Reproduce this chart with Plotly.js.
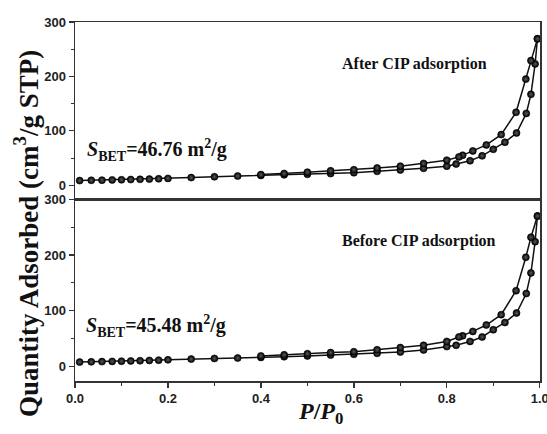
<!DOCTYPE html>
<html>
<head>
<meta charset="utf-8">
<script src="https://cdn.plot.ly/plotly-3.0.1.min.js"></script>
<style>html,body{margin:0;padding:0;background:#fff;}#chart{width:547px;height:434px;}</style>
</head>
<body>
<div id="chart"></div>
<script>
// Relative pressure P/P0, adsorption branch
const adsP = [0.01,0.035,0.058,0.08,0.1,0.12,0.14,0.16,0.18,0.2,0.25,0.3,0.35,0.4,0.45,0.5,0.55,0.6,0.65,0.7,0.75,0.8,0.82,0.85,0.876,0.9,0.925,0.95,0.971,0.981,0.99,0.995];
// Relative pressure P/P0, desorption branch
const desP = [0.995,0.981,0.97,0.949,0.917,0.885,0.856,0.834,0.826,0.8,0.75,0.7,0.65,0.6,0.55,0.5,0.45,0.4];

// After CIP adsorption (top panel)
const afterAds = [8.5,9,9.3,9.7,10,10.4,10.8,11.2,11.8,12.5,14,15.5,16.8,18,19,20,21.3,23,25.5,28,31,35,39,45,54,66,79,96,132,167,223,269];
const afterDes = [269,229,195,134,93,74,63,55,52,46,40,35,31.7,28.5,26.5,24,21.5,19.5];

// Before CIP adsorption (bottom panel)
const beforeAds = [7.9,8.4,8.8,9.2,9.6,10,10.4,10.9,11.4,12,13.3,14.5,15.3,16.4,17.6,19,20.6,22,23.6,26,29.7,35.8,38,45,53,66,79,96,131,168,224,270];
const beforeDes = [270,232,196,136,93,74.5,63,55,53,45,38,34,30,26.5,25,23,21,19];

// Tick values / labels
const xTicks = [0,0.2,0.4,0.6,0.8,1.0];
const xTickText = ["0.0","0.2","0.4","0.6","0.8","1.0"];
const xMinor = [0.1,0.3,0.5,0.7,0.9];
const yTicks = [0,100,200,300];

const labelAfter = "After CIP adsorption";
const labelBefore = "Before CIP adsorption";
const sbetAfter = "<i>S</i><sub>BET</sub>=46.76 m<sup>2</sup>/g";
const sbetBefore = "<i>S</i><sub>BET</sub>=45.48 m<sup>2</sup>/g";
const yTitle = "Quantity Adsorbed (cm<sup>3</sup>/g STP)";
const xTitle = "<i>P</i>/<i>P</i><sub>0</sub>";

const marker = {symbol:'circle', size:7, color:'#000', gradient:{type:'radial', color:'#5a5a5a'}, line:{color:'#000', width:0.6}};
const line = {color:'#111', width:1.5};
function tr(x, y, xa, ya) {
  return {x:x, y:y, xaxis:xa, yaxis:ya, type:'scatter', mode:'lines+markers', marker:marker, line:line, showlegend:false, hoverinfo:'skip', cliponaxis:false};
}
const data = [
  tr(adsP, beforeAds, 'x', 'y'),
  tr(desP, beforeDes, 'x', 'y'),
  tr(adsP, afterAds, 'x2', 'y2'),
  tr(desP, afterDes, 'x2', 'y2')
];

const tickFont = {family:'Liberation Sans, Arial, sans-serif', size:13, color:'#222', weight:'bold'};
const axLine = {showline:true, linecolor:'#333', linewidth:1.5, mirror:true, zeroline:false, showgrid:false};
const yCommon = Object.assign({}, axLine, {
  range:[-26,300], tickmode:'array', tickvals:yTicks, ticks:'outside', ticklen:5, tickwidth:1.3, tickcolor:'#333',
  tickfont:tickFont, minor:{dtick:50, tick0:0, ticks:'outside', ticklen:3, tickwidth:1, tickcolor:'#333'}
});

const layout = {
  width:547, height:434,
  margin:{l:75, r:7, t:22, b:53},
  paper_bgcolor:'#fff', plot_bgcolor:'#fff',
  font:{family:'Liberation Serif, Times New Roman, serif', color:'#111'},
  xaxis: Object.assign({}, axLine, {anchor:'y', range:[0,1.0005], tickmode:'array', tickvals:xTicks, ticktext:xTickText, ticklabeloverflow:'allow', ticks:'outside', ticklen:5, tickwidth:1.3, tickcolor:'#333', tickfont:tickFont,
    minor:{tickmode:'array', tickvals:xMinor, ticks:'outside', ticklen:3, tickwidth:1, tickcolor:'#333'}}),
  xaxis2: Object.assign({}, axLine, {anchor:'y2', matches:'x', showticklabels:false, ticks:''}),
  yaxis: Object.assign({}, yCommon, {domain:[0,0.506], anchor:'x'}),
  yaxis2: Object.assign({}, yCommon, {domain:[0.506,1], anchor:'x2'}),
  annotations: [
    {xref:'x2', yref:'y2', x:0.731, y:223, xanchor:'center', text:labelAfter, showarrow:false, font:{size:16, weight:'bold', color:'#111'}},
    {xref:'x', yref:'y', x:0.74, y:226, xanchor:'center', text:labelBefore, showarrow:false, font:{size:16, weight:'bold', color:'#111'}},
    {xref:'x2', yref:'y2', x:0.022, y:64, xanchor:'left', text:sbetAfter, showarrow:false, font:{size:20, weight:'bold', color:'#111'}},
    {xref:'x', yref:'y', x:0.02, y:72, xanchor:'left', text:sbetBefore, showarrow:false, font:{size:20, weight:'bold', color:'#111'}},
    {xref:'paper', yref:'paper', x:-0.105, y:0.41, xanchor:'center', yanchor:'middle', text:yTitle, textangle:-90, showarrow:false, font:{size:27, weight:'bold', color:'#111'}},
    {xref:'paper', yref:'paper', x:0.527, y:-0.088, xanchor:'center', yanchor:'middle', text:xTitle, showarrow:false, font:{size:24, weight:'bold', color:'#111'}}
  ]
};

Plotly.newPlot('chart', data, layout, {displayModeBar:false, staticPlot:true});
</script>
</body>
</html>
